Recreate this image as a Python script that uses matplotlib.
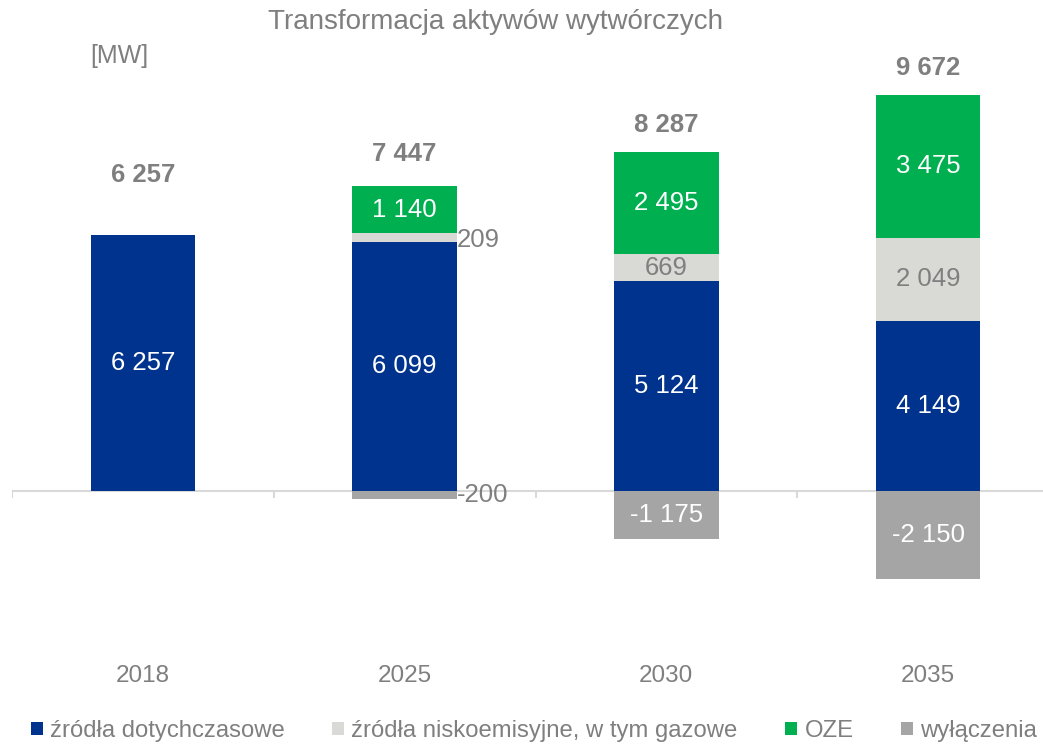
import matplotlib
matplotlib.use("Agg")
import matplotlib.pyplot as plt
from matplotlib.patches import Patch
from matplotlib.transforms import blended_transform_factory

plt.rcParams['font.family'] = ['Liberation Sans', 'DejaVu Sans']

years = ['2018', '2025', '2030', '2035']
existing = [6257, 6099, 5124, 4149]
lowemission = [0, 209, 669, 2049]
oze = [0, 1140, 2495, 3475]
shutdown = [0, -200, -1175, -2150]
totals = [6257, 7447, 8287, 9672]
total_offsets = [1470, 790, 660, 680]

series_names = ['źródła dotychczasowe', 'źródła niskoemisyjne, w tym gazowe', 'OZE', 'wyłączenia']
colors = ['#00338D', '#D9D9D6', '#00B050', '#A5A5A5']
gray = '#7F7F7F'

W, H = 1043, 744
fig = plt.figure(figsize=(W / 100, H / 100), dpi=100)
scale = 0.0409  # px per MW
top_px, bot_px, zero_px = 40, 640, 491
ax = fig.add_axes([12 / W, (H - bot_px) / H, (1059 - 12) / W, (bot_px - top_px) / H])
ax.set_xlim(-0.5, 3.5)
ax.set_ylim(-(bot_px - zero_px) / scale, (zero_px - top_px) / scale)
ax.axis('off')

x = list(range(len(years)))
bw = 0.4
ax.bar(x, existing, bw, color=colors[0], zorder=2)
ax.bar(x, lowemission, bw, bottom=existing, color=colors[1], zorder=2)
bot3 = [a + b for a, b in zip(existing, lowemission)]
ax.bar(x, oze, bw, bottom=bot3, color=colors[2], zorder=2)
ax.bar(x, shutdown, bw, color=colors[3], zorder=2)

# zero line and boundary ticks
ax.plot([-0.5, 3.5], [0, 0], color='#D9D9D9', lw=1.5, zorder=1)
for b in [-0.5, 0.5, 1.5, 2.5, 3.5]:
    ax.plot([b, b], [0, -150], color='#D9D9D9', lw=1.5, zorder=1)

fs = 18.5
for i in x:
    ax.text(i, existing[i] / 2, f"{existing[i]:,}".replace(',', ' '), ha='center', va='center',
            color='white', fontsize=fs)
    if lowemission[i]:
        lbl = f"{lowemission[i]:,}".replace(',', ' ')
        if lowemission[i] < 400:
            ax.text(i + bw / 2, existing[i] + lowemission[i] / 2 - 60, lbl, ha='left', va='center',
                    color=gray, fontsize=fs)
        else:
            ax.text(i, existing[i] + lowemission[i] / 2, lbl, ha='center', va='center',
                    color=gray, fontsize=fs)
    if oze[i]:
        ax.text(i, bot3[i] + oze[i] / 2, f"{oze[i]:,}".replace(',', ' '), ha='center', va='center',
                color='white', fontsize=fs)
    if shutdown[i]:
        lbl = f"{shutdown[i]:,}".replace(',', ' ')
        if shutdown[i] > -400:
            ax.text(i + bw / 2, shutdown[i] / 2, lbl, ha='left', va='center',
                    color=gray, fontsize=fs)
        else:
            ax.text(i, shutdown[i] / 2, lbl, ha='center', va='center',
                    color='white', fontsize=fs)
    ax.text(i, totals[i] + total_offsets[i], f"{totals[i]:,}".replace(',', ' '), ha='center',
            va='center', color=gray, fontsize=fs, fontweight='bold')

tr = blended_transform_factory(ax.transData, fig.transFigure)
for i, y in enumerate(years):
    ax.text(i, (H - 676) / H, y, transform=tr, ha='center', va='center', color=gray, fontsize=17.5)

fig.text(496 / W, 1 - 22 / H, 'Transformacja aktywów wytwórczych', ha='center', va='center',
         color=gray, fontsize=20)
fig.text(119 / W, 1 - 56 / H, '[MW]', ha='center', va='center', color=gray, fontsize=18)

handles = [Patch(facecolor=c, edgecolor='none') for c in colors]
fig.legend(handles, series_names, loc='center', bbox_to_anchor=(534 / W, 1 - 731 / H), ncol=4,
           frameon=False, fontsize=17.2, labelcolor=gray, handlelength=0.5, handleheight=0.5,
           handletextpad=0.3, columnspacing=2.0, borderpad=0, borderaxespad=0)

fig.savefig('out.png', dpi=100)
